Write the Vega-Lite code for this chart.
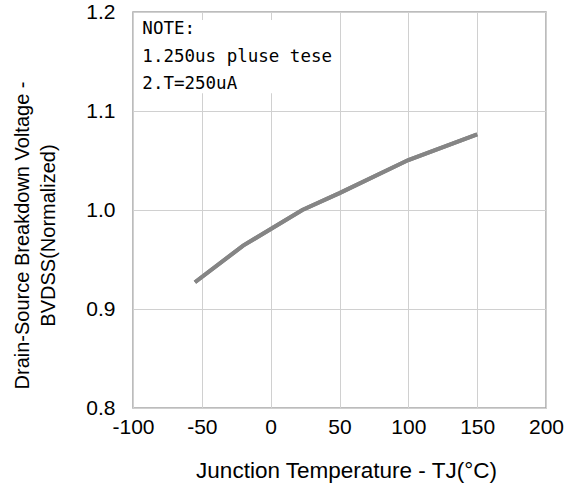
{
  "$schema": "https://vega.github.io/schema/vega-lite/v6.json",
  "width": 413,
  "height": 396,
  "autosize": {"type": "none"},
  "padding": {"left": 133, "top": 12, "right": 22, "bottom": 89},
  "background": "white",
  "config": {
    "view": {"stroke": "#a6a6a6", "strokeWidth": 1.5},
    "font": "Liberation Sans"
  },
  "datasets": {
    "curve": [
      {"t": -55, "v": 0.927},
      {"t": -20, "v": 0.964},
      {"t": 23, "v": 1.0},
      {"t": 50, "v": 1.017},
      {"t": 100, "v": 1.0505},
      {"t": 150, "v": 1.0765}
    ],
    "notes": [
      {"line": "NOTE:", "order": 1},
      {"line": "1.250us pluse tese", "order": 2},
      {"line": "2.T=250uA", "order": 3}
    ]
  },
  "layer": [
    {
      "data": {"name": "curve"},
      "mark": {"type": "line", "color": "#858585", "strokeWidth": 4},
      "encoding": {
        "x": {
          "field": "t", "type": "quantitative",
          "scale": {"domain": [-100, 200], "nice": false, "zero": false},
          "axis": {
            "title": "Junction Temperature  -   TJ(°C)",
            "values": [-100, -50, 0, 50, 100, 150, 200],
            "labelExpr": "datum.value < 0 ? '-' + abs(datum.value) : '' + datum.value",
            "domain": false, "ticks": false,
            "gridColor": "#d0d0d0", "gridWidth": 1,
            "labelFontSize": 21, "labelColor": "#000000", "labelPadding": 8,
            "labelFlush": false,
            "titleFontSize": 22.5, "titleFontWeight": "normal", "titleColor": "#000000",
            "titleX": 213, "titleY": 69, "titleBaseline": "alphabetic"
          }
        },
        "y": {
          "field": "v", "type": "quantitative",
          "scale": {"domain": [0.8, 1.2], "nice": false, "zero": false},
          "axis": {
            "title": ["Drain-Source Breakdown Voltage -", "BVDSS(Normalized)"],
            "values": [0.8, 0.9, 1.0, 1.1, 1.2],
            "format": ".1f",
            "domain": false, "ticks": false,
            "gridColor": "#d0d0d0", "gridWidth": 1,
            "labelFontSize": 21, "labelColor": "#000000", "labelPadding": 18,
            "labelFlush": false,
            "titleFontSize": 20, "titleFontWeight": "normal", "titleColor": "#000000",
            "titleX": -111, "titleY": 223, "titleBaseline": "middle", "titleAlign": "center",
            "titleAngle": -90, "titleLineHeight": 26
          }
        }
      }
    },
    {
      "data": {"values": [{"box": "note"}]},
      "mark": {"type": "rect", "fill": "white"},
      "encoding": {
        "x": {"datum": -99.3, "type": "quantitative"},
        "x2": {"datum": 48},
        "y": {"datum": 1.192, "type": "quantitative"},
        "y2": {"datum": 1.118}
      }
    },
    {
      "data": {"name": "curve"},
      "mark": {"type": "line", "color": "#858585", "strokeWidth": 4},
      "encoding": {
        "x": {"field": "t", "type": "quantitative"},
        "y": {"field": "v", "type": "quantitative"}
      }
    },
    {
      "data": {"name": "notes"},
      "mark": {"type": "text", "font": "DejaVu Sans Mono", "fontSize": 17.5, "align": "left", "baseline": "middle", "color": "#000000"},
      "encoding": {
        "x": {"datum": -93.2, "type": "quantitative"},
        "y": {"datum": 1.1829, "type": "quantitative"},
        "yOffset": {"field": "order", "type": "quantitative", "scale": {"domain": [1, 3], "range": [0, 55.5]}},
        "text": {"field": "line"}
      }
    }
  ]
}
